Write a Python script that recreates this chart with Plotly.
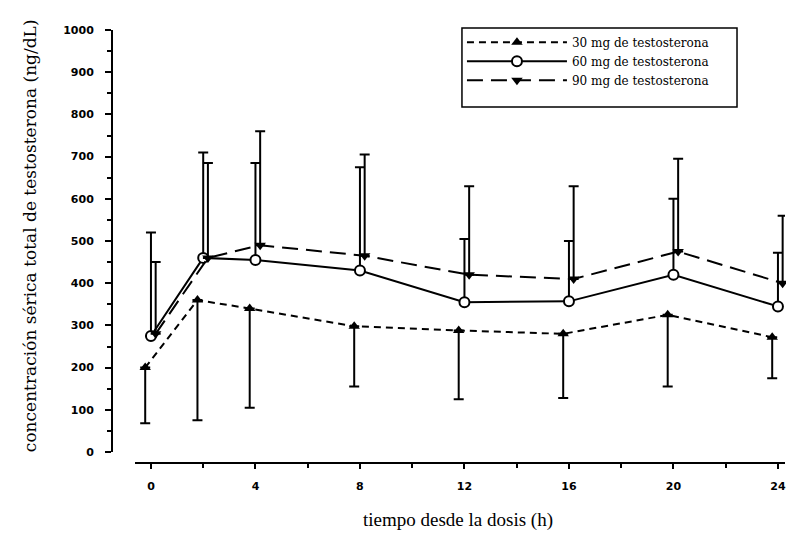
import plotly.graph_objects as go

# ---- data ----
hours = [0, 2, 4, 8, 12, 16, 20, 24]

mean_30 = [200, 360, 340, 298, 288, 280, 325, 272]
low_30 = [68, 75, 105, 155, 125, 128, 155, 175]

mean_60 = [275, 460, 455, 430, 355, 357, 420, 345]
high_60 = [520, 710, 685, 675, 505, 500, 600, 472]

mean_90 = [280, 460, 490, 465, 420, 410, 475, 400]
high_90 = [450, 685, 760, 705, 630, 630, 695, 560]

series_names = ["30 mg de testosterona", "60 mg de testosterona", "90 mg de testosterona"]
x_tick_vals = [0, 4, 8, 12, 16, 20, 24]
y_tick_vals = list(range(0, 1001, 100))

x_title = "tiempo desde la dosis (h)"
y_title = "concentración sérica total de testosterona (ng/dL)"

# ---- figure ----
dodge = {"30": -0.22, "60": 0.0, "90": 0.18}
serif = "Liberation Serif, Times New Roman, serif"
tickfont = dict(family="DejaVu Sans", size=11, color="black", weight="bold")

fig = go.Figure()

fig.add_trace(go.Scatter(
    x=[h + dodge["30"] for h in hours], y=mean_30, name=series_names[0],
    mode="lines+markers", cliponaxis=False,
    line=dict(color="black", width=2, dash="7px,5px"),
    marker=dict(symbol="triangle-up", size=10, color="black"),
    error_y=dict(type="data", symmetric=False,
                 array=[0] * len(hours),
                 arrayminus=[m - l for m, l in zip(mean_30, low_30)],
                 color="black", thickness=2, width=5),
))

fig.add_trace(go.Scatter(
    x=[h + dodge["60"] for h in hours], y=mean_60, name=series_names[1],
    mode="lines+markers", cliponaxis=False,
    line=dict(color="black", width=2),
    marker=dict(symbol="circle", size=10, color="white",
                line=dict(color="black", width=2)),
    error_y=dict(type="data", symmetric=False,
                 array=[u - m for m, u in zip(mean_60, high_60)],
                 arrayminus=[0] * len(hours),
                 color="black", thickness=2, width=5),
))

fig.add_trace(go.Scatter(
    x=[h + dodge["90"] for h in hours], y=mean_90, name=series_names[2],
    mode="lines+markers", cliponaxis=False,
    line=dict(color="black", width=2, dash="16px,8px"),
    marker=dict(symbol="triangle-down", size=10, color="black"),
    error_y=dict(type="data", symmetric=False,
                 array=[u - m for m, u in zip(mean_90, high_90)],
                 arrayminus=[0] * len(hours),
                 color="black", thickness=2, width=5),
))

fig.update_layout(
    width=786, height=533,
    margin=dict(l=112, r=1, t=30, b=70),
    paper_bgcolor="white", plot_bgcolor="white",
    showlegend=True,
    legend=dict(x=0.52, y=1.005, xanchor="left", yanchor="top",
                bgcolor="rgba(0,0,0,0)", borderwidth=0,
                font=dict(family="DejaVu Serif", size=12, color="black"),
                itemwidth=100, tracegroupgap=0),
    # frame of the legend box
    shapes=[dict(type="rect", xref="paper", yref="paper",
                 x0=0.520, x1=0.9287, y0=0.822, y1=1.0046,
                 line=dict(color="black", width=1.5), fillcolor="white",
                 layer="above")],
    xaxis=dict(domain=[0.0342, 1], range=[-0.61, 24.27],
               anchor="free", position=0,
               showline=True, linewidth=2, linecolor="black",
               showgrid=False, zeroline=False,
               ticks="outside", tickvals=x_tick_vals, ticklen=5, tickwidth=2,
               tickcolor="black", tickfont=tickfont, ticklabelstandoff=8,
               ticklabeloverflow="allow",
               minor=dict(dtick=2, tick0=0, ticks="outside", ticklen=4,
                          tickwidth=1.5, tickcolor="black", showgrid=False)),
    yaxis=dict(domain=[0.0254, 1], range=[0, 1000],
               anchor="free", position=0,
               showline=True, linewidth=2, linecolor="black",
               showgrid=False, zeroline=False,
               ticks="outside", tickvals=y_tick_vals, ticklen=6, tickwidth=2,
               tickcolor="black", tickfont=tickfont, ticklabelstandoff=9,
               ticklabeloverflow="allow",
               minor=dict(dtick=50, tick0=0, ticks="outside", ticklen=4,
                          tickwidth=1.5, tickcolor="black", showgrid=False)),
    annotations=[
        dict(text=x_title, xref="paper", yref="paper", x=0.514, y=-0.1316,
             showarrow=False, xanchor="center", yanchor="middle",
             font=dict(family=serif, size=19, color="black")),
        dict(text=y_title, xref="paper", yref="paper", x=-0.1218, y=0.524,
             showarrow=False, xanchor="center", yanchor="middle", textangle=-90,
             font=dict(family="DejaVu Serif", size=17, color="black")),
    ],
)

fig.write_html(
    "out.html",
    config={"displayModeBar": False},
    post_script="document.body.style.margin='0';document.body.style.overflow='hidden';",
)
